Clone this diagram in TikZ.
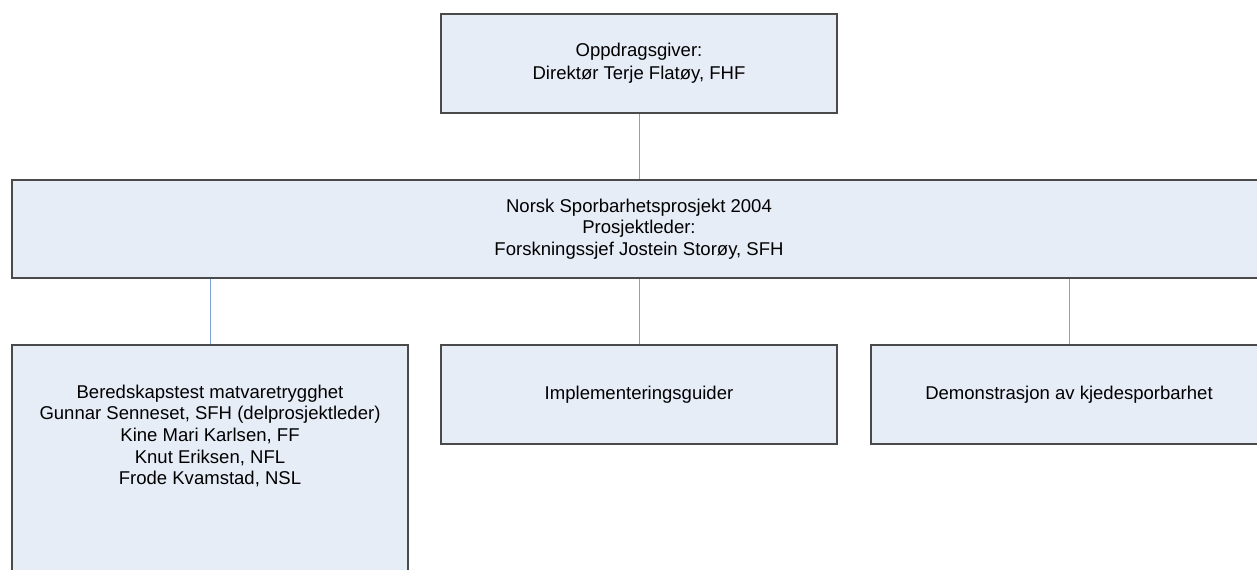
\documentclass[tikz,border=0pt]{standalone}
\usepackage{fontspec}
\setmainfont{Liberation Sans}
\usetikzlibrary{positioning}
\definecolor{boxfill}{HTML}{E7EDF7}
\definecolor{boxline}{HTML}{4A4A4A}
\definecolor{linkblue}{HTML}{7EA4D6}
\tikzset{
	orgbox/.style={draw=boxline,fill=boxfill,line width=0.9pt,inner sep=0pt,align=center,minimum width=297pt,minimum height=74.25pt},
	link/.style={draw=linkblue,line width=0.75pt}
}
\begin{document}
\begin{tikzpicture}[x=0.75pt,y=-0.75pt,font=\fontsize{13.9}{16}\selectfont]
				\useasboundingbox (0,0) rectangle (1257,570);
				\clip (0,0) rectangle (1257,570);
				
				\node[orgbox,font=\fontsize{13.9}{17}\selectfont] (oppdrag) at (639,63.5) {Oppdragsgiver:\\Direktør Terje Flatøy, FHF};
				\node[orgbox,minimum width=940.5pt,minimum height=73.5pt] (prosjekt) at (639,229) {Norsk Sporbarhetsprosjekt 2004\\Prosjektleder:\\Forskningssjef Jostein Storøy, SFH};
				
				\node[orgbox,minimum height=191.25pt] (beredskap) at (210,472.5) {};
				\node[align=center,font=\fontsize{13.9}{16.3}\selectfont] (beredskaptekst) at (210,436) {Beredskapstest matvaretrygghet\\Gunnar Senneset, SFH (delprosjektleder)\\Kine Mari Karlsen, FF\\Knut Eriksen, NFL\\Frode Kvamstad, NSL};
				\node[orgbox] (guider) at (639,394.5) {Implementeringsguider};
				\node[orgbox] (demo) at (1069,394.5) {Demonstrasjon av kjedesporbarhet};
				
				\draw[link] (oppdrag.south) -- (prosjekt.north);
				\draw[link] (prosjekt.south -| beredskap.north) -- (beredskap.north);
				\draw[link] (prosjekt.south) -- (guider.north);
				\draw[link] (prosjekt.south -| demo.north) -- (demo.north);
			\end{tikzpicture}
\end{document}
